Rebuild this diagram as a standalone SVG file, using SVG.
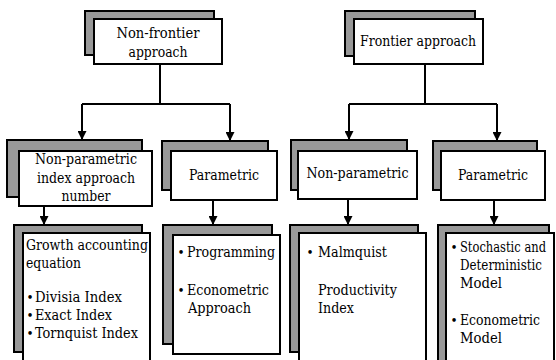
<svg xmlns="http://www.w3.org/2000/svg" width="556" height="360" viewBox="0 0 556 360">
<style>
.sh{fill:#999;stroke:#000;stroke-width:2}
.fr{fill:#fff;stroke:#000;stroke-width:2}
.c{text-anchor:middle}
.b{font-size:12px;text-anchor:middle}
.ln{fill:none;stroke:#000;stroke-width:2}
</style>
<defs>
<marker id="ah" viewBox="0 0 10 10" refX="10" refY="5" markerWidth="9" markerHeight="9" markerUnits="userSpaceOnUse" orient="auto">
<path d="M0,0 L10,5 L0,10 z" fill="#000"/>
</marker>
</defs>
<rect width="556" height="360" fill="#fff"/>
<g id="connectors">
<path class="ln" d="M160,64 V104 M82,104 H230"/>
<path class="ln" d="M82,104 V140" marker-end="url(#ah)"/>
<path class="ln" d="M230,104 V141" marker-end="url(#ah)"/>
<path class="ln" d="M425,64 V104 M349,104 H497"/>
<path class="ln" d="M349,104 V140" marker-end="url(#ah)"/>
<path class="ln" d="M497,104 V141" marker-end="url(#ah)"/>
<path class="ln" d="M44,206 V225" marker-end="url(#ah)"/>
<path class="ln" d="M213,200 V225" marker-end="url(#ah)"/>
<path class="ln" d="M348,199 V225" marker-end="url(#ah)"/>
<path class="ln" d="M494,200 V225" marker-end="url(#ah)"/>
</g>
<g font-family="'DejaVu Serif', 'Liberation Serif', serif" font-size="15" fill="#000">
<g id="nonfrontier">
<rect class="sh" x="85" y="11" width="129" height="44"/>
<rect class="fr" x="94" y="19" width="128" height="45"/>
<text class="c" x="158" y="38" textLength="83" lengthAdjust="spacingAndGlyphs">Non-frontier</text>
<text class="c" x="158" y="57" textLength="59" lengthAdjust="spacingAndGlyphs">approach</text>
</g>
<g id="frontier">
<rect class="sh" x="345" y="11" width="130" height="45"/>
<rect class="fr" x="354" y="19" width="129" height="45"/>
<text class="c" x="418" y="46" textLength="116" lengthAdjust="spacingAndGlyphs">Frontier approach</text>
</g>
<g id="nonparam-index">
<rect class="sh" x="7" y="140" width="135" height="57"/>
<rect class="fr" x="19" y="151" width="133" height="55"/>
<text class="c" x="86" y="164" textLength="102" lengthAdjust="spacingAndGlyphs">Non-parametric</text>
<text class="c" x="86" y="183" textLength="98" lengthAdjust="spacingAndGlyphs">index approach</text>
<text class="c" x="86" y="201" textLength="49" lengthAdjust="spacingAndGlyphs">number</text>
</g>
<g id="param-left">
<rect class="sh" x="162" y="141" width="106" height="49"/>
<rect class="fr" x="171" y="151" width="106" height="49"/>
<text class="c" x="224" y="180" textLength="70" lengthAdjust="spacingAndGlyphs">Parametric</text>
</g>
<g id="nonparam-right">
<rect class="sh" x="291" y="140" width="116" height="50"/>
<rect class="fr" x="298" y="151" width="119" height="48"/>
<text class="c" x="357.5" y="178" textLength="102" lengthAdjust="spacingAndGlyphs">Non-parametric</text>
</g>
<g id="param-right">
<rect class="sh" x="433" y="141" width="104" height="49"/>
<rect class="fr" x="441" y="151" width="104" height="49"/>
<text class="c" x="493" y="180" textLength="70" lengthAdjust="spacingAndGlyphs">Parametric</text>
</g>
<g id="growth">
<rect class="sh" x="14" y="225" width="128" height="127"/>
<rect class="fr" x="23" y="233" width="127" height="140"/>
<text x="26" y="250" textLength="122" lengthAdjust="spacingAndGlyphs">Growth accounting</text>
<text x="26" y="268" textLength="55" lengthAdjust="spacingAndGlyphs">equation</text>
<text class="b" x="30" y="302">•</text>
<text x="35" y="302" textLength="87" lengthAdjust="spacingAndGlyphs">Divisia Index</text>
<text class="b" x="30" y="320">•</text>
<text x="35" y="320" textLength="77" lengthAdjust="spacingAndGlyphs">Exact Index</text>
<text class="b" x="30" y="338">•</text>
<text x="35" y="338" textLength="103" lengthAdjust="spacingAndGlyphs">Tornquist Index</text>
</g>
<g id="programming">
<rect class="sh" x="163" y="225" width="109" height="119"/>
<rect class="fr" x="173" y="235" width="107" height="119"/>
<text class="b" x="181" y="257">•</text>
<text x="187" y="257" textLength="88" lengthAdjust="spacingAndGlyphs">Programming</text>
<text class="b" x="181" y="295">•</text>
<text x="187" y="295" textLength="82" lengthAdjust="spacingAndGlyphs">Econometric</text>
<text x="188" y="313" textLength="63" lengthAdjust="spacingAndGlyphs">Approach</text>
</g>
<g id="malmquist">
<rect class="sh" x="290" y="225" width="128" height="127"/>
<rect class="fr" x="299" y="233" width="127" height="140"/>
<text class="b" x="310" y="257">•</text>
<text x="318" y="257" textLength="69" lengthAdjust="spacingAndGlyphs">Malmquist</text>
<text x="318" y="295" textLength="79" lengthAdjust="spacingAndGlyphs">Productivity</text>
<text x="318" y="313" textLength="36" lengthAdjust="spacingAndGlyphs">Index</text>
</g>
<g id="stochastic">
<rect class="sh" x="438" y="225" width="111" height="140"/>
<rect class="fr" x="446" y="233" width="108" height="140"/>
<text class="b" x="454" y="252">•</text>
<text x="460" y="252" textLength="86" lengthAdjust="spacingAndGlyphs">Stochastic and</text>
<text x="460" y="270" textLength="82" lengthAdjust="spacingAndGlyphs">Deterministic</text>
<text x="460" y="288" textLength="42" lengthAdjust="spacingAndGlyphs">Model</text>
<text class="b" x="454" y="325">•</text>
<text x="460" y="325" textLength="80" lengthAdjust="spacingAndGlyphs">Econometric</text>
<text x="460" y="343" textLength="42" lengthAdjust="spacingAndGlyphs">Model</text>
</g>
</g>
</svg>
